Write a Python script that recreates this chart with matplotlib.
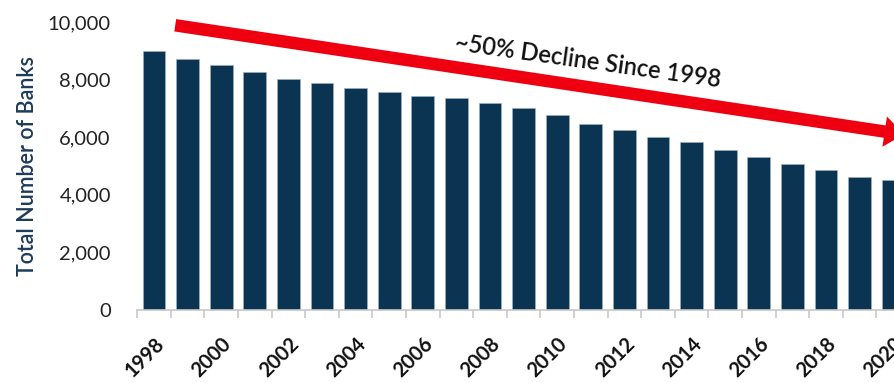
import matplotlib.pyplot as plt
import numpy as np

years = list(range(1998, 2021))
banks = [9000, 8700, 8510, 8260, 8010, 7890, 7700, 7570, 7440, 7370, 7190,
         7000, 6760, 6450, 6260, 6020, 5820, 5570, 5320, 5070, 4870, 4630, 4500]
tick_labels = [str(y) if (y - 1998) % 2 == 0 else '' for y in years]

# arrow / annotation endpoints (index units, bank count)
arrow_start = (0.55, 9900)
arrow_end = (22.4, 6080)
note_text = '~50% Decline Since 1998'

plt.rcParams['font.family'] = ['Lato', 'DejaVu Sans']

fig = plt.figure(figsize=(8.95, 3.83), dpi=100)
ax = fig.add_axes([0.1533, 0.1906, 0.8635, 0.752])

x = np.arange(len(years))
ax.bar(x, banks, width=0.68, color='#0b3352', edgecolor='#9fb3c4', linewidth=0.4, zorder=2)

ax.set_xlim(-0.5, 22.5)
ax.set_ylim(0, 10000)
ax.set_yticks(range(0, 10001, 2000))
ax.set_yticklabels([f'{v:,}' for v in range(0, 10001, 2000)], fontsize=14.5, color='#222222')
ax.tick_params(axis='y', length=0, pad=19)

ax.set_xticks(x)
ax.set_xticklabels(tick_labels, rotation=45, ha='right', rotation_mode='anchor',
                   fontsize=14.5, fontweight='bold', color='#111111')
ax.tick_params(axis='x', which='major', length=0, pad=17)
ax.set_xticks(np.arange(-0.5, 23, 1), minor=True)
ax.tick_params(axis='x', which='minor', length=6, color='#c8c8c8', width=1.2)

for s in ['top', 'right', 'left']:
    ax.spines[s].set_visible(False)
ax.spines['bottom'].set_color('#c8c8c8')
ax.spines['bottom'].set_linewidth(1.2)

ax.set_ylabel('Total Number of Banks', fontsize=15.5, fontweight='semibold',
              color='#1f3b5a', labelpad=7)

ax.annotate('', xy=arrow_end, xytext=arrow_start,
            arrowprops=dict(arrowstyle='simple,head_length=1.4,head_width=2.2,tail_width=0.9',
                            color='#ee0011', lw=0, mutation_scale=10),
            annotation_clip=False, zorder=3)
ax.text(12.9, 8650, note_text, rotation=-8.0, ha='center', va='center',
        fontsize=17, fontweight='semibold', color='#111111')

fig.savefig('out.png', dpi=100)
